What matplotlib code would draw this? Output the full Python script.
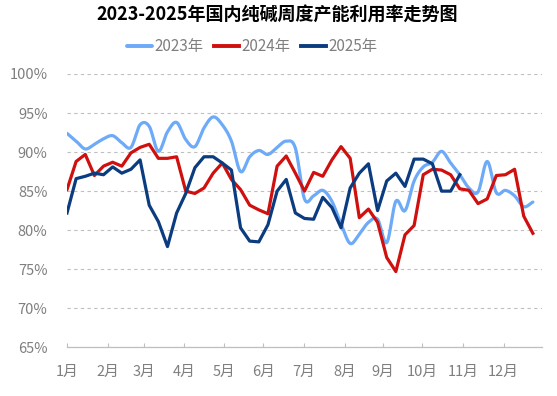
import numpy as np
import matplotlib
matplotlib.use("Agg")
import matplotlib.pyplot as plt

plt.rcParams['font.family'] = ['Noto Sans CJK SC', 'DejaVu Sans']

title = "2023-2025年国内纯碱周度产能利用率走势图"
series_names = ["2023年", "2024年", "2025年"]
month_labels = ["1月", "2月", "3月", "4月", "5月", "6月", "7月", "8月", "9月", "10月", "11月", "12月"]
month_week_pos = [0, 4.5, 8.4, 12.8, 17.2, 21.5, 25.9, 30.4, 34.6, 38.9, 43.4, 47.8]

util_2023 = [92.4, 91.4, 90.4, 91.0, 91.7, 92.1, 91.2, 90.6, 93.5, 93.3,
             90.1, 92.6, 93.8, 91.6, 90.7, 93.1, 94.5, 93.5, 91.4, 87.5,
             89.4, 90.2, 89.7, 90.6, 91.4, 90.5, 84.0, 84.4, 85.1, 83.7,
             80.8, 78.3, 79.5, 81.0, 81.4, 78.4, 83.7, 82.5, 86.3, 88.1,
             88.7, 90.1, 88.6, 87.1, 85.4, 84.9, 88.8, 84.8, 85.1, 84.4,
             83.0, 83.6]
util_2024 = [85.2, 88.8, 89.7, 87.0, 88.2, 88.7, 88.2, 89.9, 90.6, 91.0,
             89.2, 89.2, 89.4, 85.0, 84.7, 85.4, 87.3, 88.6, 86.5, 85.2,
             83.2, 82.6, 82.1, 88.2, 89.5, 87.3, 85.0, 87.4, 86.9, 89.0,
             90.7, 89.2, 81.6, 82.7, 81.0, 76.5, 74.7, 79.4, 80.6, 87.1,
             87.8, 87.7, 87.1, 85.3, 85.1, 83.4, 84.0, 87.0, 87.1, 87.8,
             81.8, 79.6]
util_2025 = [82.2, 86.6, 86.9, 87.3, 87.1, 88.1, 87.3, 87.8, 89.0, 83.2,
             81.1, 77.9, 82.2, 84.7, 88.0, 89.4, 89.4, 88.6, 87.7, 80.3,
             78.6, 78.5, 80.7, 85.0, 86.5, 82.2, 81.5, 81.4, 84.2, 82.9,
             80.3, 85.4, 87.3, 88.5, 82.5, 86.3, 87.3, 85.6, 89.1, 89.1,
             88.5, 85.0, 85.0, 87.1]

colors = ["#6DAAF7", "#D0100F", "#0B3C80"]


def smooth_curve(x, y, n=12):
    """Catmull-Rom rendering of a smoothed line (drawing style only)."""
    x = np.asarray(x, float)
    y = np.asarray(y, float)
    px = np.concatenate([[2 * x[0] - x[1]], x, [2 * x[-1] - x[-2]]])
    py = np.concatenate([[2 * y[0] - y[1]], y, [2 * y[-1] - y[-2]]])
    xs, ys = [], []
    t = np.linspace(0, 1, n, endpoint=False)
    for i in range(1, len(px) - 2):
        for arr, out in ((px, xs), (py, ys)):
            p0, p1, p2, p3 = arr[i - 1], arr[i], arr[i + 1], arr[i + 2]
            out.extend(0.5 * ((2 * p1) + (-p0 + p2) * t
                              + (2 * p0 - 5 * p1 + 4 * p2 - p3) * t ** 2
                              + (-p0 + 3 * p1 - 3 * p2 + p3) * t ** 3))
    xs.append(x[-1])
    ys.append(y[-1])
    return np.array(xs), np.array(ys)


fig = plt.figure(figsize=(5.57, 3.96), dpi=100)
ax = fig.add_axes([67 / 557, 1 - 347.3 / 396, (542 - 67) / 557, (347.3 - 74) / 396])

x23 = np.arange(len(util_2023))
sx, sy = smooth_curve(x23, util_2023)
ax.plot(sx, sy, color=colors[0], lw=2.3, label=series_names[0], solid_capstyle='round', zorder=3)
ax.plot(np.arange(len(util_2024)), util_2024, color=colors[1], lw=2.3,
        label=series_names[1], solid_joinstyle='round', zorder=4)
ax.plot(np.arange(len(util_2025)), util_2025, color=colors[2], lw=2.3,
        label=series_names[2], solid_joinstyle='round', zorder=5)

ax.set_xlim(0, 52)
ax.set_ylim(65, 100)
yt = np.arange(65, 101, 5)
ax.set_yticks(yt)
ax.set_yticklabels([f"{v}%" for v in yt])
ax.set_xticks(month_week_pos)
ax.set_xticklabels(month_labels)

ax.grid(axis='y', color='#BFBFBF', linestyle=(0, (3, 3)), linewidth=0.8)
ax.set_axisbelow(True)
for s in ['left', 'right', 'top']:
    ax.spines[s].set_visible(False)
ax.spines['bottom'].set_color('#BFBFBF')
ax.spines['bottom'].set_linewidth(0.9)
ax.spines['bottom'].set_zorder(6)

ax.tick_params(axis='y', length=0, pad=14, labelsize=10.5, labelcolor='#7F7F7F')
ax.tick_params(axis='x', direction='in', length=3, width=0.8, color='#BFBFBF',
               pad=13, labelsize=10.5, labelcolor='#7F7F7F')

fig.text(277 / 557, 1 - 15.5 / 396, title, ha='center', va='center',
         fontsize=13, fontweight='bold', color='black')

leg = fig.legend(loc='center', bbox_to_anchor=(252 / 557, 1 - 46.7 / 396), ncol=3,
                 frameon=False, fontsize=11, handlelength=1.65, handletextpad=0.15,
                 columnspacing=0.7, labelcolor='#7F7F7F')
for h in leg.get_lines():
    h.set_linewidth(2.8)

fig.savefig("out.png", dpi=100)
